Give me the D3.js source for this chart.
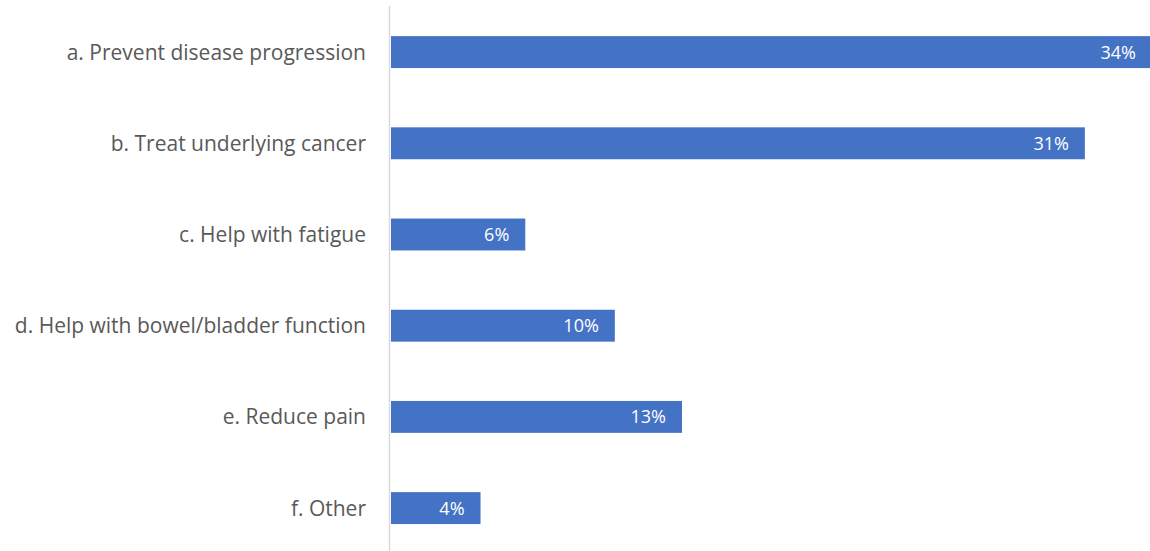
<!DOCTYPE html>
<html>
<head>
<meta charset="utf-8">
<script src="https://cdn.jsdelivr.net/npm/d3@7"></script>
<style>
  html, body { margin: 0; padding: 0; background: #ffffff; }
  svg { display: block; }
</style>
</head>
<body>
<svg id="chart" width="1150" height="551"></svg>
<script>
// Survey responses: share of respondents per answer
const categories = [
  "a. Prevent disease progression",
  "b. Treat underlying cancer",
  "c. Help with fatigue",
  "d. Help with bowel/bladder function",
  "e. Reduce pain",
  "f. Other"
];
const percentValues = [34, 31, 6, 10, 13, 4];
const valueLabels = ["34%", "31%", "6%", "10%", "13%", "4%"];

const width = 1150, height = 551;
const margin = { top: 6, right: 0, bottom: 0, left: 391 };

const svg = d3.select("#chart");

const x = d3.scaleLinear()
  .domain([0, 34])
  .range([margin.left, margin.left + 761]);

const y = d3.scaleBand()
  .domain(categories)
  .range([6.5, 553.7])
  .paddingInner(0.65)
  .paddingOuter(0.325);

const data = categories.map((c, i) => ({ cat: c, v: percentValues[i], label: valueLabels[i] }));

// Bars
svg.append("g")
  .selectAll("rect")
  .data(data)
  .join("rect")
  .attr("x", x(0))
  .attr("y", d => y(d.cat))
  .attr("width", d => x(d.v) - x(0))
  .attr("height", y.bandwidth())
  .attr("fill", "#4472C4");

// Value labels inside bar ends
svg.append("g")
  .selectAll("text")
  .data(data)
  .join("text")
  .attr("x", d => x(d.v) - 16)
  .attr("y", d => y(d.cat) + y.bandwidth() / 2)
  .attr("dy", "0.36em")
  .attr("text-anchor", "end")
  .attr("fill", "#ffffff")
  .style("font-family", "'Open Sans', sans-serif")
  .style("font-size", "18px")
  .text(d => d.label);

// Category axis
const yAxis = d3.axisLeft(y).tickSize(0).tickPadding(23.5);
const gAxis = svg.append("g")
  .attr("transform", `translate(${margin.left - 1.5},0)`)
  .call(yAxis);
gAxis.select(".domain")
  .attr("d", `M0,${margin.top}V${height}`)
  .attr("stroke", "#d9d9d9")
  .attr("stroke-width", 1.5);
gAxis.selectAll(".tick text")
  .attr("fill", "#595959")
  .attr("dy", "0.36em")
  .style("font-family", "'Open Sans', sans-serif")
  .style("font-size", "21px");
</script>
</body>
</html>
